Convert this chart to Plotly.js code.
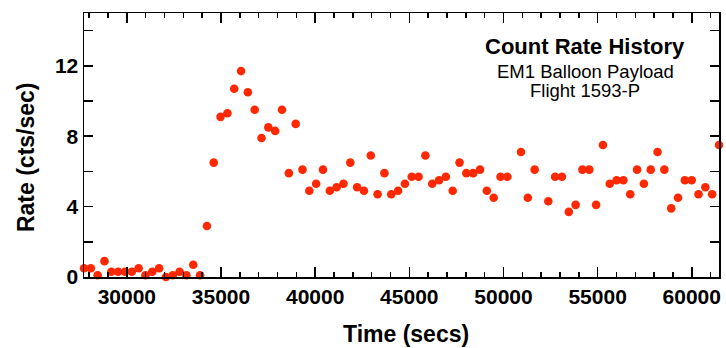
<!DOCTYPE html>
<html><head><meta charset="utf-8">
<script src="https://cdn.plot.ly/plotly-3.0.1.min.js"></script>
<style>html,body{margin:0;padding:0;background:#fff}#chart{width:726px;height:348px}</style>
</head><body><div id="chart"></div>
<script>
const timeSecs = [
  27724, 28087, 28449, 28812, 29174, 29537, 29900, 30262, 30625, 30987,
  31350, 31713, 32075, 32438, 32800, 33163, 33526, 33888, 34251, 34613,
  34976, 35339, 35701, 36064, 36426, 36789, 37152, 37514, 37877, 38239,
  38602, 38965, 39327, 39690, 40052, 40415, 40778, 41140, 41503, 41865,
  42228, 42591, 42953, 43316, 43678, 44041, 44404, 44766, 45129, 45491,
  45854, 46217, 46579, 46942, 47304, 47667, 48030, 48392, 48755, 49117,
  49480, 49843, 50205, 50930, 51293, 51656, 52381, 52743,
  53106, 53469, 53831, 54194, 54556, 54919, 55282, 55644, 56007, 56369,
  56732, 57095, 57457, 57820, 58182, 58545, 58908, 59270, 59633, 59995,
  60358, 60721, 61083, 61446
];
const rateCps = [
  0.5, 0.5, 0.1, 0.9, 0.3, 0.3, 0.3, 0.3, 0.5, 0.1,
  0.3, 0.5, 0.0, 0.1, 0.3, 0.1, 0.7, 0.1, 2.9, 6.5,
  9.1, 9.3, 10.7, 11.7, 10.5, 9.5, 7.9, 8.5, 8.3, 9.5,
  5.9, 8.7, 6.1, 4.9, 5.3, 6.1, 4.9, 5.1, 5.3, 6.5,
  5.1, 4.9, 6.9, 4.7, 5.9, 4.7, 4.9, 5.3, 5.7, 5.7,
  6.9, 5.3, 5.5, 5.7, 4.9, 6.5, 5.9, 5.9, 6.1, 4.9,
  4.5, 5.7, 5.7, 7.1, 4.5, 6.1, 4.3, 5.7,
  5.7, 3.7, 4.1, 6.1, 6.1, 4.1, 7.5, 5.3, 5.5, 5.5,
  4.7, 6.1, 5.3, 6.1, 7.1, 6.1, 3.9, 4.5, 5.5, 5.5,
  4.7, 5.1, 4.7, 7.5
];
const chartTitle = 'Count Rate History';
const subTitle1 = 'EM1 Balloon Payload';
const subTitle2 = 'Flight 1593-P';
const xTitle = 'Time (secs)';
const yTitle = 'Rate (cts/sec)';

const fam = 'Liberation Sans, Arial, Helvetica, sans-serif';
const tickFont = {family: fam, size: 21, color: '#000', weight: 'bold'};

const trace = {
  x: timeSecs, y: rateCps, type: 'scatter', mode: 'markers',
  marker: {color: '#ff2800', size: 8.6, line: {width: 0}},
  cliponaxis: false, hoverinfo: 'x+y'
};

const axisCommon = {
  showline: true, linecolor: '#000', linewidth: 1.5, mirror: 'ticks',
  ticks: 'inside', tickcolor: '#000', tickwidth: 1.5,
  showgrid: false, zeroline: false, tickfont: tickFont
};

const layout = {
  width: 726, height: 348,
  margin: {l: 84, r: 7, t: 13, b: 71, pad: 0},
  paper_bgcolor: '#fff', plot_bgcolor: '#fff',
  showlegend: false,
  xaxis: Object.assign({}, axisCommon, {
    range: [timeSecs[0], timeSecs[timeSecs.length - 1]],
    dtick: 5000, tick0: 0, ticklen: 10, tickformat: 'd',
    minor: {dtick: 1000, tick0: 0, ticklen: 5, tickwidth: 1.5, tickcolor: '#000', ticks: 'inside'}
  }),
  yaxis: Object.assign({}, axisCommon, {
    range: [0, 15], dtick: 4, tick0: 0, ticklen: 9,
    minor: {dtick: 2, tick0: 0, ticklen: 9, tickwidth: 1.5, tickcolor: '#000', ticks: 'inside'}
  }),
  annotations: [
    {text: '<b>' + chartTitle + '</b>', xref: 'paper', yref: 'paper', x: 0.789, y: 0.872,
     xanchor: 'center', yanchor: 'middle', showarrow: false, font: {family: fam, size: 22, color: '#000'}},
    {text: subTitle1, xref: 'paper', yref: 'paper', x: 0.789, y: 0.777,
     xanchor: 'center', yanchor: 'middle', showarrow: false, font: {family: fam, size: 18.5, color: '#000'}},
    {text: subTitle2, xref: 'paper', yref: 'paper', x: 0.789, y: 0.705,
     xanchor: 'center', yanchor: 'middle', showarrow: false, font: {family: fam, size: 18.5, color: '#000'}},
    {text: '<b>' + xTitle + '</b>', xref: 'paper', yref: 'paper', x: 0.507, y: -0.216,
     xanchor: 'center', yanchor: 'middle', showarrow: false, font: {family: fam, size: 23, color: '#000'}},
    {text: '<b>' + yTitle + '</b>', xref: 'paper', yref: 'paper', x: -0.0913, y: 0.4545,
     xanchor: 'center', yanchor: 'middle', textangle: -90, showarrow: false, font: {family: fam, size: 23, color: '#000'}}
  ]
};

Plotly.newPlot('chart', [trace], layout, {displayModeBar: false, staticPlot: true});
</script>
</body></html>
